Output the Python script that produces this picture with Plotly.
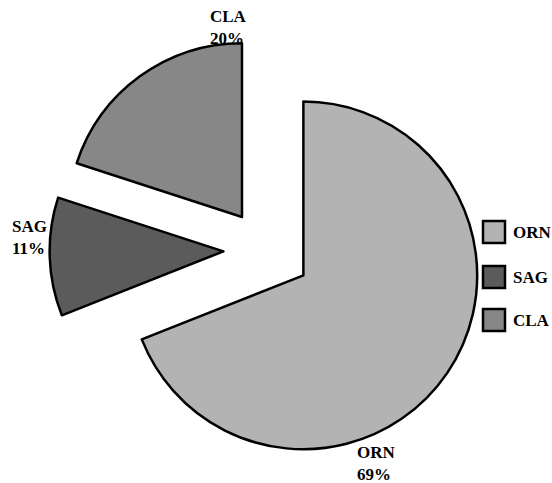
import plotly.graph_objects as go

# Slice data
labels = ["ORN", "SAG", "CLA"]
values = [69, 11, 20]
colors = ["#b3b3b3", "#5b5b5b", "#878787"]
pulls = [0.26, 0.245, 0.235]

W, H = 552, 483
M = dict(l=47, r=67, t=31, b=14)
PW = W - M["l"] - M["r"]
PH = H - M["t"] - M["b"]


def px(x):
    return (x - M["l"]) / PW


def py(y):
    return 1 - (y - M["t"]) / PH


FONT = dict(family="Liberation Serif", size=17, color="black")

fig = go.Figure(
    go.Pie(
        labels=labels,
        values=values,
        sort=False,
        direction="clockwise",
        rotation=0,
        pull=pulls,
        marker=dict(colors=colors, line=dict(color="black", width=2.5)),
        textinfo="none",
        hoverinfo="label+percent",
        showlegend=False,
    )
)

total = sum(values)
pct = {lab: round(100 * v / total) for lab, v in zip(labels, values)}

# Slice labels (label + percentage)
label_pos = {"ORN": (355, 441), "SAG": (10, 215), "CLA": (208, 5)}
annotations = []
for lab in labels:
    x, y = label_pos[lab]
    annotations.append(
        dict(
            x=px(x), y=py(y), xref="paper", yref="paper",
            xanchor="left", yanchor="top", align="left",
            text=f"<b>{lab}<br>{pct[lab]}%</b>",
            showarrow=False, font=FONT,
        )
    )

# Legend drawn as boxes and text
shapes = []
legend_y = [232, 277, 320]
for lab, col, yc in zip(labels, colors, legend_y):
    shapes.append(
        dict(
            type="rect", xref="paper", yref="paper",
            x0=px(483), x1=px(505), y0=py(yc - 11), y1=py(yc + 11),
            fillcolor=col, line=dict(color="black", width=2.5),
        )
    )
    annotations.append(
        dict(
            x=px(511), y=py(yc), xref="paper", yref="paper",
            xanchor="left", yanchor="middle",
            text=f"<b>{lab}</b>", showarrow=False, font=FONT,
        )
    )

fig.update_layout(
    width=W, height=H, margin=M,
    paper_bgcolor="white", plot_bgcolor="white",
    annotations=annotations, shapes=shapes,
    font=FONT,
)

fig.write_html("out.html")
